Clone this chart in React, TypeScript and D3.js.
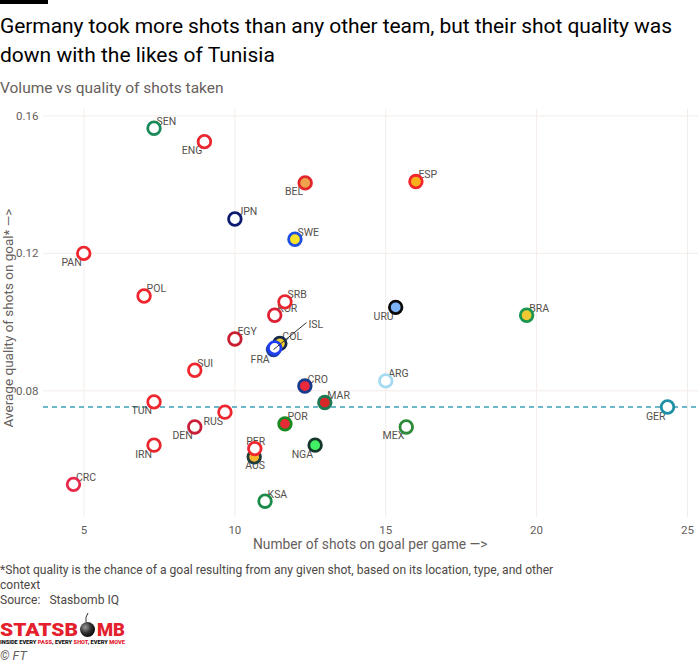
import React from "react";
import * as d3 from "d3";

// shots on target per game vs average shot quality (xG per shot), World Cup 2018
export const teams = [
  "SEN", "ENG", "BEL", "ESP", "JPN", "SWE", "PAN", "POL", "SRB", "URU", "BRA",
  "KOR", "EGY", "COL", "ISL", "FRA", "SUI", "ARG", "CRO", "TUN", "MAR", "GER",
  "RUS", "POR", "DEN", "MEX", "IRN", "NGA", "AUS", "PER", "CRC", "KSA",
];
export const shotsPerGame = [
  7.32, 8.99, 12.33, 16.0, 10.0, 11.99, 4.99, 6.99, 11.66, 15.33, 19.67,
  11.32, 10.0, 11.49, 11.28, 11.32, 8.67, 15.0, 12.32, 7.32, 12.98, 24.34,
  9.67, 11.66, 8.67, 15.68, 7.32, 12.66, 10.64, 10.66, 4.65, 11.0,
];
export const shotQuality = [
  0.1564, 0.1525, 0.1405, 0.1409, 0.13, 0.1241, 0.12, 0.1076, 0.1059, 0.1043, 0.102,
  0.102, 0.0951, 0.0938, 0.092, 0.0925, 0.086, 0.0829, 0.0814, 0.0768, 0.0766, 0.0753,
  0.0738, 0.0704, 0.0695, 0.0695, 0.0642, 0.0642, 0.0608, 0.0632, 0.0528, 0.0479,
];
export const averageQuality = 0.0753;
export const xTicks = [5, 10, 15, 20, 25];
export const yTicks = [0.08, 0.12, 0.16];

// kit colours: [ring, fill]
const kit: Record<string, [string, string]> = {
  SEN: ["#1b8a5a", "#fff"], ENG: ["#ea2630", "#fff"], BEL: ["#e3262c", "#f0a24c"],
  ESP: ["#f2252a", "#f9b019"], JPN: ["#0c1a70", "#fff"], SWE: ["#1e4fe0", "#f8e32a"],
  PAN: ["#f0262e", "#fff"], POL: ["#f0262e", "#fff"], SRB: ["#e8262f", "#fff"],
  URU: ["#0a0a0a", "#7cb3f7"], BRA: ["#1a9650", "#efc932"], KOR: ["#dc1f35", "#fff"],
  EGY: ["#c81e32", "#fff"], COL: ["#14284a", "#f3cf2c"], ISL: ["#1e3c9c", "#fff"],
  FRA: ["#1f3ff0", "#fff"], SUI: ["#f0262e", "#fff"], ARG: ["#a6daf2", "#fff"],
  CRO: ["#1b3a8c", "#ea2a3a"], TUN: ["#f0262e", "#fff"], MAR: ["#1d7a52", "#d8282a"],
  GER: ["#1e8fa4", "#fff"], RUS: ["#f0262e", "#fff"], POR: ["#1a8a22", "#e62a36"],
  DEN: ["#c9203a", "#fff"], MEX: ["#2c8a38", "#fff"], IRN: ["#e8262f", "#fff"],
  NGA: ["#15362a", "#42f065"], AUS: ["#1f3b3a", "#f6b52c"], PER: ["#f0262e", "#fff"],
  CRC: ["#e8284a", "#fff"], KSA: ["#1a8a4a", "#fff"],
};

// where each label sits relative to its dot
const labelSide: Record<string, string> = {
  ENG: "ll", BEL: "ll", PAN: "ll", URU: "ll", FRA: "ll2", TUN: "ll", RUS: "ll",
  DEN: "ll", IRN: "ll", NGA: "ll", MEX: "ll", GER: "ll", PER: "uc", AUS: "lc",
  ISL: "leader",
};

const font = "Roboto, 'Noto Sans', sans-serif";
const grey = "#66605c";

const W = 700;
const H = 662;

const App = () => {
  const x = d3.scaleLinear().domain([3.64, 25.35]).range([43, 698]);
  const y = d3.scaleLinear().domain([0.0433, 0.162]).range([517, 109]);
  const r = 6.3;

  const points = teams.map((t, i) => ({
    team: t,
    cx: x(shotsPerGame[i]),
    cy: y(shotQuality[i]),
  }));

  const label = (p: { team: string; cx: number; cy: number }) => {
    const side = labelSide[p.team] || "ur";
    const common = { fontSize: 10.5, fill: "#55504c", fontFamily: font, key: p.team };
    if (side === "ll")
      return <text {...common} x={p.cx - 2} y={p.cy + 12.5} textAnchor="end">{p.team}</text>;
    if (side === "ll2")
      return <text {...common} x={p.cx - 5} y={p.cy + 15.5} textAnchor="end">{p.team}</text>;
    if (side === "uc")
      return <text {...common} x={p.cx + 1} y={p.cy - 3.5} textAnchor="middle">{p.team}</text>;
    if (side === "lc")
      return <text {...common} x={p.cx + 1} y={p.cy + 12.5} textAnchor="middle">{p.team}</text>;
    if (side === "leader")
      return <text {...common} x={p.cx + 35} y={p.cy - 22}>{p.team}</text>;
    return <text {...common} x={p.cx + 2.5} y={p.cy - 3.5}>{p.team}</text>;
  };

  const [x0, x1] = x.range();
  const [yb, yt] = y.range();

  return (
    <svg width={W} height={H} style={{ position: "absolute", left: 0, top: 0, background: "#fff" }}>
      <defs>
        <radialGradient id="bomb" cx="0.35" cy="0.35" r="0.75">
          <stop offset="0" stopColor="#9a9a9a" />
          <stop offset="0.5" stopColor="#333" />
          <stop offset="1" stopColor="#000" />
        </radialGradient>
      </defs>

      <rect x={0} y={0} width={48} height={4} fill="#000" />
      <text x={0} y={33} fontSize={21} fontFamily={font} fill="#000" textLength={672} lengthAdjust="spacing">
        Germany took more shots than any other team, but their shot quality was
      </text>
      <text x={0} y={62} fontSize={21} fontFamily={font} fill="#000">
        down with the likes of Tunisia
      </text>
      <text x={0} y={93} fontSize={15.5} fontFamily={font} fill={grey}>
        Volume vs quality of shots taken
      </text>

      {/* grid */}
      {xTicks.map((t) => (
        <line key={"gx" + t} x1={x(t)} x2={x(t)} y1={yt} y2={yb} stroke="#f3ece8" strokeWidth={1} />
      ))}
      {yTicks.map((t) => (
        <line key={"gy" + t} x1={x0} x2={x1} y1={y(t)} y2={y(t)} stroke="#f3ece8" strokeWidth={1} />
      ))}
      {xTicks.map((t) => (
        <text key={"tx" + t} x={x(t)} y={534} fontSize={11.5} fontFamily={font} fill={grey} textAnchor="middle">
          {d3.format("d")(t)}
        </text>
      ))}
      {yTicks.map((t) => (
        <text key={"ty" + t} x={38.5} y={y(t) + 4} fontSize={11.5} fontFamily={font} fill={grey} textAnchor="end">
          {d3.format(".2f")(t)}
        </text>
      ))}

      <text x={253} y={549} fontSize={13.8} fontFamily={font} fill={grey}>
        Number of shots on goal per game —&gt;
      </text>
      <text
        transform={`translate(13, ${(yt + yb) / 2 + 5}) rotate(-90)`}
        fontSize={13.5}
        fontFamily={font}
        fill={grey}
        textAnchor="middle"
      >
        Average quality of shots on goal* —&gt;
      </text>

      {/* average line */}
      <line
        x1={x0}
        x2={x1}
        y1={y(averageQuality)}
        y2={y(averageQuality)}
        stroke="#6ab8c8"
        strokeWidth={1.8}
        strokeDasharray="5,4"
      />

      {points.map(label)}
      {points.map((p) => (
        <circle
          key={"c" + p.team}
          cx={p.cx}
          cy={p.cy}
          r={r}
          fill={kit[p.team][1]}
          stroke={kit[p.team][0]}
          strokeWidth={2.8}
        />
      ))}
      {points
        .filter((p) => labelSide[p.team] === "leader")
        .map((p) => (
          <line key={"l" + p.team} x1={p.cx} y1={p.cy} x2={p.cx + 33} y2={p.cy - 27} stroke="#333" strokeWidth={1} />
        ))}

      {/* footnotes */}
      <text x={0} y={574} fontSize={12.1} fontFamily={font} fill="#4d4845">
        *Shot quality is the chance of a goal resulting from any given shot, based on its location, type, and other
      </text>
      <text x={0} y={589} fontSize={12.1} fontFamily={font} fill="#4d4845">
        context
      </text>
      <text x={0} y={604} fontSize={12.1} fontFamily={font} fill="#4d4845" style={{ whiteSpace: "pre" }}>
        {"Source:   Stasbomb IQ"}
      </text>

      {/* StatsBomb logo */}
      <g>
        <text x={0} y={636} fontSize={18} fontWeight={900} fontFamily={font} fill="#e3202c" textLength={78} lengthAdjust="spacingAndGlyphs">
          STATSB
        </text>
        <path d="M86,622 q-1,-5 2,-9" stroke="#333" strokeWidth={1} fill="none" />
        <circle cx={87.5} cy={629.5} r={7.5} fill="url(#bomb)" />
        <text x={97} y={636} fontSize={18} fontWeight={900} fontFamily={font} fill="#e3202c" textLength={28} lengthAdjust="spacingAndGlyphs">
          MB
        </text>
        <text x={0} y={643.5} fontSize={5.6} fontWeight={900} fontFamily={font} fill="#111" textLength={125} lengthAdjust="spacingAndGlyphs">
          INSIDE EVERY <tspan fill="#e3202c">PASS</tspan>, EVERY <tspan fill="#e3202c">SHOT</tspan>, EVERY <tspan fill="#e3202c">MOVE</tspan>
        </text>
      </g>
      <text x={0} y={660} fontSize={12.5} fontStyle="italic" fontFamily={font} fill={grey}>
        © FT
      </text>
    </svg>
  );
};

export default App;
